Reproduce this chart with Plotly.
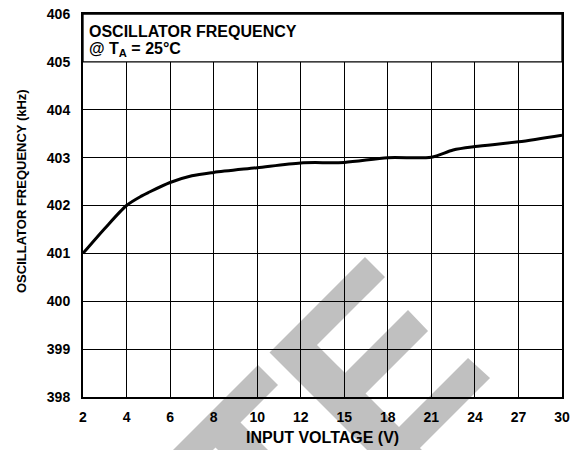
import numpy as np
import plotly.graph_objects as go

# ---- data ----
tick_voltages = [2, 4, 6, 8, 10, 12, 15, 18, 21, 24, 27, 30]
tick_labels = [str(v) for v in tick_voltages]
freq_ticks = [398, 399, 400, 401, 402, 403, 404, 405, 406]

input_voltage = [2, 3, 4, 4.7, 5, 6, 7, 8, 10, 12, 15, 18, 21, 22.5, 24, 27, 30]
osc_freq_khz = [401.0, 401.52, 402.0, 402.2, 402.27, 402.48, 402.62, 402.69,
                402.79, 402.89, 402.9, 403.0, 403.01, 403.16, 403.23, 403.33, 403.47]

# the axis is spaced evenly per tick label -> map voltage to tick position
tick_pos = list(range(len(tick_voltages)))
x_pos = np.interp(input_voltage, tick_voltages, tick_pos)

# body margin is removed, plot area sits at page px 83..562 x 14..397
W, H = 581, 450
L, R, T, B = 83, 19, 14, 53
PW, PH = W - L - R, H - T - B


def px(x, y):
    """page pixel -> paper fraction"""
    return (x - L) / PW, (H - B - y) / PH


def path(points):
    pts = [px(x, y) for x, y in points]
    return "M " + " L ".join(f"{a:.4f},{b:.4f}" for a, b in pts) + " Z"


watermark = [
    [(258, 365), (278, 385), (190, 473), (170, 453)],
    [(240, 422), (290, 472), (240, 472), (215, 447)],
    [(269.5, 352.5), (365, 257), (385, 277), (317, 345), (345, 373), (408, 310),
     (428, 331), (365.5, 393.5), (399, 427), (468, 358), (490, 378), (420, 448),
     (442, 470), (387, 470)],
]

FONT = "Arial, Liberation Sans, sans-serif"

fig = go.Figure()
fig.add_trace(go.Scatter(
    x=x_pos, y=osc_freq_khz, mode="lines",
    line=dict(color="black", width=3, shape="spline", smoothing=0.8),
    hoverinfo="skip", showlegend=False,
))

shapes = []
for poly in watermark:
    shapes.append(dict(type="path", xref="paper", yref="paper", path=path(poly),
                       fillcolor="#c0c0c0", line=dict(width=0), layer="below"))
shapes.append(dict(type="rect", xref="x", yref="y", x0=0, x1=len(tick_voltages) - 1,
                   y0=405, y1=406, fillcolor="white",
                   line=dict(color="black", width=1.3), layer="between"))

annotations = [
    dict(text="<b>OSCILLATOR FREQUENCY</b>", xref="paper", yref="paper",
         x=px(87, 0)[0], y=px(0, 31)[1], xanchor="left", yanchor="middle",
         showarrow=False, font=dict(family=FONT, size=16, color="black")),
    dict(text="<b>@ T<sub>A</sub> = 25°C</b>", xref="paper", yref="paper",
         x=px(87, 0)[0], y=px(0, 49)[1], xanchor="left", yanchor="middle",
         showarrow=False, font=dict(family=FONT, size=16, color="black")),
    dict(text="<b>INPUT VOLTAGE (V)</b>", xref="paper", yref="paper",
         x=px(322.5, 0)[0], y=px(0, 437)[1], xanchor="center", yanchor="middle",
         showarrow=False, font=dict(family=FONT, size=16, color="black")),
    dict(text="<b>OSCILLATOR FREQUENCY (kHz)</b>", xref="paper", yref="paper",
         x=px(21, 0)[0], y=px(0, 191)[1], xanchor="center", yanchor="middle",
         textangle=-90,
         showarrow=False, font=dict(family=FONT, size=13, color="black")),
]

fig.update_layout(
    width=W, height=H,
    margin=dict(l=L, r=R, t=T, b=B, autoexpand=False),
    paper_bgcolor="white", plot_bgcolor="rgba(0,0,0,0)",
    font=dict(family=FONT, color="black"),
    shapes=shapes, annotations=annotations,
    showlegend=False,
)
fig.update_xaxes(
    range=[0, len(tick_voltages) - 1], tickmode="array", tickvals=tick_pos,
    ticktext=[f"<b>{t}</b>" for t in tick_labels],
    tickfont=dict(family=FONT, size=14, color="black"),
    showgrid=True, gridcolor="black", gridwidth=1.3,
    showline=True, linecolor="black", linewidth=2, mirror=True,
    ticks="", ticklabelstandoff=6, zeroline=False, fixedrange=True,
)
fig.update_yaxes(
    range=[398, 406], tickmode="array", tickvals=freq_ticks,
    ticktext=[f"<b>{t}</b>" for t in freq_ticks],
    tickfont=dict(family=FONT, size=14, color="black"),
    showgrid=True, gridcolor="black", gridwidth=1.3,
    showline=True, linecolor="black", linewidth=2, mirror=True,
    ticks="", ticklabelstandoff=8, zeroline=False, fixedrange=True,
)

fig.write_html(
    "out.html",
    config={"displayModeBar": False},
    post_script="document.body.style.margin='0';document.body.style.overflow='hidden';",
)
